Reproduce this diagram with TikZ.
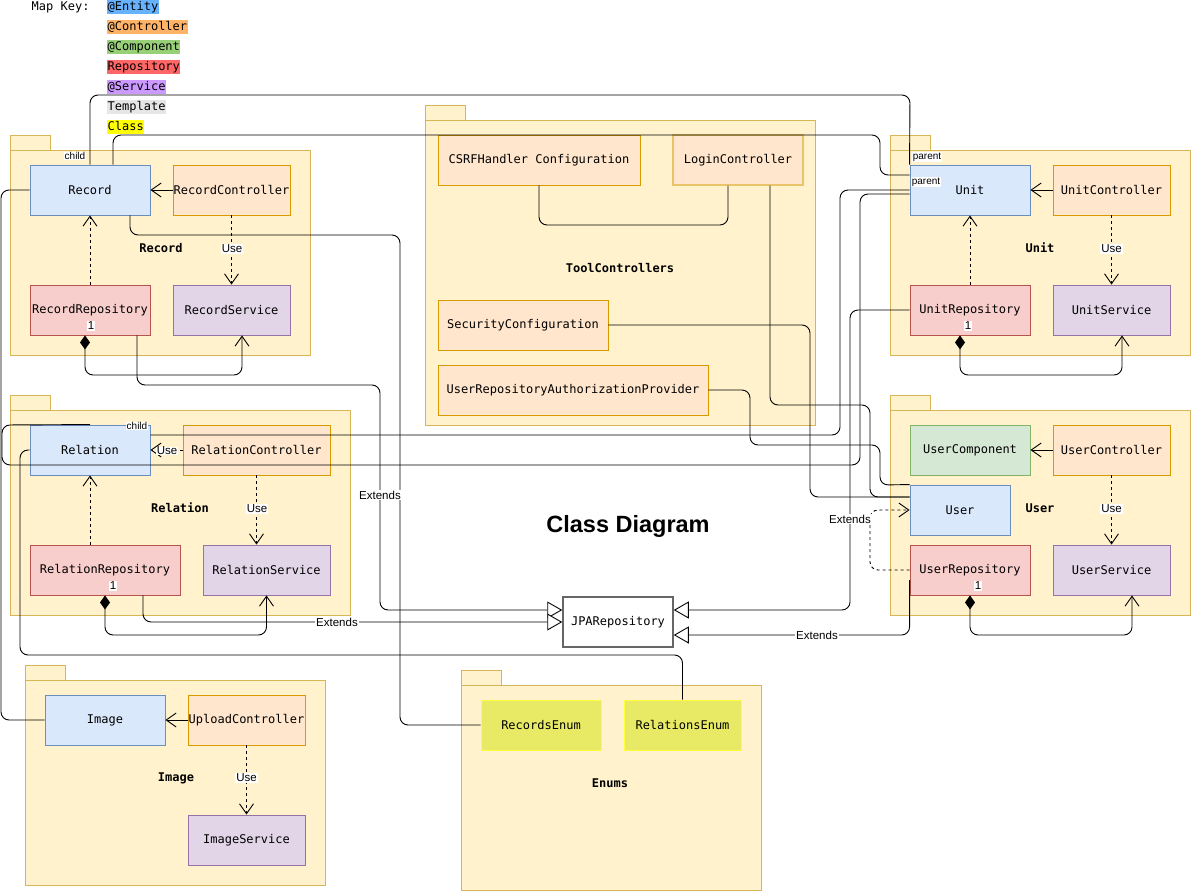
\documentclass[tikz,border=0pt]{standalone}
\usepackage{fontspec}
\setmainfont{Liberation Sans}
\newfontfamily\mono{DejaVu Sans Mono}
\usetikzlibrary{arrows.meta}
\definecolor{pkgF}{HTML}{FFF2CC}
\definecolor{pkgD}{HTML}{D6B656}
\definecolor{entF}{HTML}{DAE8FC}
\definecolor{entD}{HTML}{6C8EBF}
\definecolor{ctlF}{HTML}{FFE6CC}
\definecolor{ctlD}{HTML}{D79B00}
\definecolor{cmpF}{HTML}{D5E8D4}
\definecolor{cmpD}{HTML}{82B366}
\definecolor{repF}{HTML}{F8CECC}
\definecolor{repD}{HTML}{B85450}
\definecolor{srvF}{HTML}{E1D5E7}
\definecolor{srvD}{HTML}{9673A6}
\definecolor{enmF}{HTML}{E8EA66}
\definecolor{enmD}{HTML}{FFFF3C}
\definecolor{loginD}{HTML}{EAC469}
\definecolor{jpaD}{HTML}{666666}
\definecolor{kEnt}{HTML}{66B2FF}
\definecolor{kCtl}{HTML}{FFB366}
\definecolor{kCmp}{HTML}{97D077}
\definecolor{kRep}{HTML}{FF6666}
\definecolor{kSrv}{HTML}{CC99FF}
\definecolor{kTpl}{HTML}{E6E6E6}
\definecolor{kCls}{HTML}{FFFF00}
\begin{document}
\begin{tikzpicture}[x=1pt,y=-1pt,
  box/.style={draw, line width=0.9pt, minimum height=50pt, inner sep=0pt,
    font=\mono\fontsize{12}{14}\selectfont, align=center},
  ent/.style={box, fill=entF, draw=entD},
  ctl/.style={box, fill=ctlF, draw=ctlD},
  cmp/.style={box, fill=cmpF, draw=cmpD},
  rep/.style={box, fill=repF, draw=repD},
  srv/.style={box, fill=srvF, draw=srvD},
  enm/.style={box, fill=enmF, draw=enmD},
  pkg/.style={fill=pkgF, draw=pkgD, line width=0.9pt},
  pkglabel/.style={font=\mono\bfseries\fontsize{12}{14}\selectfont},
  conn/.style={line width=0.9pt, rounded corners=8pt},
  openarrow/.style={-{Straight Barb[length=10pt,width=14pt]}},
  assoc/.style={conn, openarrow},
  dep/.style={conn, dash pattern=on 3pt off 3pt, openarrow},
  ext/.style={conn, -{Triangle[open,length=15pt,width=17pt,fill=white]}},
  comp/.style={conn, {Diamond[length=14pt,width=10pt]}-{Straight Barb[length=10pt,width=14pt]}},
  lbl/.style={fill=white, inner sep=1pt, font=\fontsize{11.5}{13}\selectfont},
  small/.style={fill=white, inner sep=0.8pt, font=\fontsize{10}{12}\selectfont},
  mult/.style={fill=white, inner sep=0.8pt, font=\fontsize{11.5}{13}\selectfont},
  keytxt/.style={anchor=west, inner xsep=0.5pt, inner ysep=1.2pt, text height=9.5pt, text depth=2.8pt,
    font=\mono\fontsize{12}{14}\selectfont}
]
\useasboundingbox (0,0) rectangle (1191,891);
\fill[white] (0,0) rectangle (1191,891);

% ---------- map key ----------
\node[keytxt] (mapkey) at (31,7) {Map Key:};
\node[keytxt, fill=kEnt] (kent) at (107,7) {@Entity};
\node[keytxt, fill=kCtl] (kctl) at (107,27) {@Controller};
\node[keytxt, fill=kCmp] (kcmp) at (107,47) {@Component};
\node[keytxt, fill=kRep] (krep) at (107,67) {Repository};
\node[keytxt, fill=kSrv] (ksrv) at (107,87) {@Service};
\node[keytxt, fill=kTpl] (ktpl) at (107,107) {Template};
\node[keytxt, fill=kCls] (kcls) at (107,127) {Class};

% ---------- packages ----------
\draw[pkg] (10,135) rectangle (50,150);   \draw[pkg] (10,150) rectangle (310,355);
\draw[pkg] (10,395) rectangle (50,410);   \draw[pkg] (10,410) rectangle (350,615);
\draw[pkg] (890,135) rectangle (930,150); \draw[pkg] (890,150) rectangle (1190,355);
\draw[pkg] (890,395) rectangle (930,410); \draw[pkg] (890,410) rectangle (1190,615);
\draw[pkg] (425,105) rectangle (465,120); \draw[pkg] (425,120) rectangle (815,425);
\draw[pkg] (25,665) rectangle (65,680);   \draw[pkg] (25,680) rectangle (325,885);
\draw[pkg] (461,670) rectangle (501,685); \draw[pkg] (461,685) rectangle (761,890);

\node[pkglabel] (lrecord) at (161,248) {Record};
\node[pkglabel] (lrelation) at (180,508) {Relation};
\node[pkglabel] (lunit) at (1040,248) {Unit};
\node[pkglabel] (luser) at (1040,508) {User};
\node[pkglabel] (ltool) at (620,268) {ToolControllers};
\node[pkglabel] (limage) at (176,778) {Image};
\node[pkglabel] (lenums) at (610,783) {Enums};

\node[font=\bfseries\fontsize{23.5}{26}\selectfont] (title) at (628,526) {Class Diagram};

% ---------- classes ----------
\node[ent, minimum width=120pt] (record) at (90,190) {Record};
\node[ctl, minimum width=117pt] (recctrl) at (231.5,190) {RecordController};
\node[rep, minimum width=120pt] (recrepo) at (90,310) {RecordRepository};
\node[srv, minimum width=117pt] (recserv) at (231.5,310) {RecordService};

\node[ent, minimum width=120pt] (relation) at (90,450) {Relation};
\node[ctl, minimum width=147pt] (relctrl) at (256.5,450) {RelationController};
\node[rep, minimum width=150pt] (relrepo) at (105,570) {RelationRepository};
\node[srv, minimum width=127pt] (relserv) at (266.5,570) {RelationService};

\node[ent, minimum width=120pt] (unit) at (970,190) {Unit};
\node[ctl, minimum width=117pt] (unitctrl) at (1111.5,190) {UnitController};
\node[rep, minimum width=120pt] (unitrepo) at (970,310) {UnitRepository};
\node[srv, minimum width=117pt] (unitserv) at (1111.5,310) {UnitService};

\node[cmp, minimum width=120pt] (usercomp) at (970,450) {UserComponent};
\node[ctl, minimum width=117pt] (userctrl) at (1111.5,450) {UserController};
\node[ent, minimum width=100pt] (user) at (960,510) {User};
\node[rep, minimum width=120pt] (userrepo) at (970,570) {UserRepository};
\node[srv, minimum width=117pt] (userserv) at (1111.5,570) {UserService};

\node[ctl, minimum width=202pt] (csrf) at (539,160) {CSRFHandler Configuration};
\node[ctl, draw=loginD, line width=1.4pt, minimum width=130pt] (login) at (738,160) {LoginController};
\node[ctl, minimum width=170pt] (security) at (523,325) {SecurityConfiguration};
\node[ctl, minimum width=270pt] (urap) at (573,390) {UserRepositoryAuthorizationProvider};

\node[box, draw=jpaD, fill=white, line width=1.5pt, minimum width=110pt] (jpa) at (618,622) {JPARepository};

\node[ent, minimum width=120pt] (image) at (105,720) {Image};
\node[ctl, minimum width=117pt] (upload) at (246.5,720) {UploadController};
\node[srv, minimum width=117pt] (imgserv) at (246.5,840) {ImageService};

\node[enm, minimum width=120pt] (recenum) at (541,725) {RecordsEnum};
\node[enm, minimum width=117pt] (relenum) at (682.5,725) {RelationsEnum};

% multiplicity labels
\node[mult] (m1) at (91,326) {1};
\node[mult] (m2) at (113,586) {1};
\node[mult] (m3) at (968,326) {1};
\node[mult] (m4) at (978,586) {1};

% ---------- connectors inside packages ----------
\draw[assoc] (recctrl.west) -- (record.east);
\draw[dep] (recrepo.north) -- (record.south);
\draw[dep] (recctrl.south) -- (recserv.north);
\draw[comp] ([xshift=-5pt]recrepo.south) |- (242,375) -- ([xshift=10.5pt]recserv.south);

\draw[dep] (relctrl.west) -- (relation.east);
\draw[dep] ([xshift=-15pt]relrepo.north) -- (relation.south);
\draw[dep] (relctrl.south) -- (relctrl.south |- relserv.north);
\draw[comp] (relrepo.south) |- (266.5,635) -- (relserv.south);

\draw[assoc] (unitctrl.west) -- (unit.east);
\draw[dep] (unitrepo.north) -- (unit.south);
\draw[dep] (unitctrl.south) -- (unitserv.north);
\draw[comp] ([xshift=-10pt]unitrepo.south) |- (1122,375) -- ([xshift=10.5pt]unitserv.south);

\draw[assoc] (userctrl.west) -- (usercomp.east);
\draw[dep] (userctrl.south) -- (userserv.north);
\draw[comp] (userrepo.south) |- (1132,635) -- ([xshift=20.5pt]userserv.south);
\draw[dep] (userrepo.west) -| (870,510) -- (user.west);

\draw[assoc] (upload.west) -- (image.east);
\draw[dep] (upload.south) -- (imgserv.north);

\draw[conn] (csrf.south) |- (728,225) -- ([xshift=-10pt]login.south);

% ---------- long connectors ----------
\draw[conn] (record.north) |- (910,95) -- (unit.north west);
\draw[conn] ([xshift=23pt]record.north) |- (880,135) |- ([yshift=15pt]unit.west);
\draw[conn] (record.west) -| (1,720) -- (image.west);
\draw[conn] ([xshift=40pt]record.south) |- (400,235) |- (recenum.west);
\draw[ext] ([xshift=47pt]recrepo.south) |- (380,385) |- ([yshift=12pt]jpa.west);

\draw[ext] ([xshift=38pt]relrepo.south) |- (jpa.west);
\draw[conn] ([yshift=15pt]relation.east) -| (840,190) -- (unit.west);
\draw[conn] (relation.north) -- (2,425) |- (860,465) |- ([yshift=-4pt]unit.west);
\draw[conn] (relation.west) -| (20,655) -| (relenum.north);

\draw[ext] (unitrepo.west) -| (850,610) -- ([yshift=12pt]jpa.east);
\draw[ext] ([yshift=-10pt]userrepo.west) |- ([yshift=-13pt]jpa.east);

\draw[conn] ([xshift=32pt]login.south) |- (870,405) |- ([yshift=13pt]user.west);
\draw[conn] (security.east) -| (810,497) -- ([yshift=13pt]user.west);
\draw[conn] (urap.east) -| (750,445) -| (880,485) -- (user.north west);

% ---------- connector labels ----------
\node[lbl] (u1) at (232,249) {Use};
\node[lbl] (u2) at (257,509) {Use};
\node[lbl] (u3) at (1111.5,249) {Use};
\node[lbl] (u4) at (1111.5,509) {Use};
\node[lbl] (u5) at (246.5,778) {Use};
\node[lbl, inner sep=0.3pt] (u6) at (167,451) {Use};
\node[lbl] (e1) at (380,495) {Extends};
\node[lbl] (e2) at (337,622) {Extends};
\node[lbl] (e3) at (817,635) {Extends};
\node[lbl] (e4) at (850,519) {Extends};
\node[small] (ch1) at (75,156) {child};
\node[small] (ch2) at (137,426) {child};
\node[small] (pa1) at (927,157) {parent};
\node[small] (pa2) at (926,182) {parent};
\end{tikzpicture}
\end{document}
